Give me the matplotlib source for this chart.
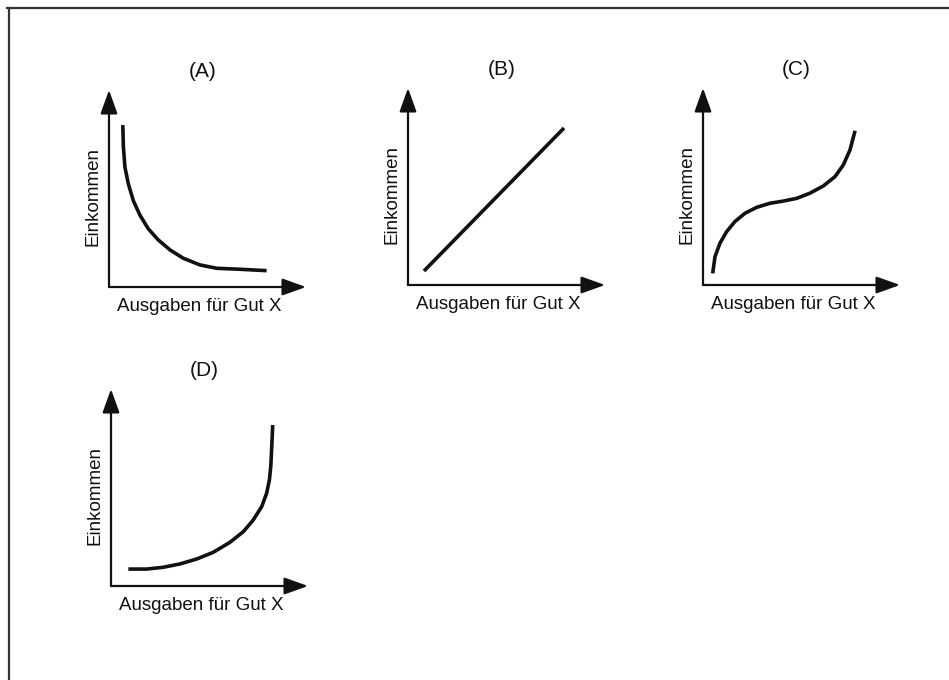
import matplotlib.pyplot as plt
from matplotlib.lines import Line2D

plt.rcParams['font.family'] = ['Liberation Sans', 'DejaVu Sans']

W, H = 949, 680

# curve data (panel units 0..10)
a_x = [0.70, 0.73, 0.81, 0.98, 1.24, 1.57, 1.99, 2.50, 3.10, 3.77, 4.62, 5.47, 6.65, 8.00]
a_y = [8.22, 7.11, 6.08, 5.24, 4.37, 3.65, 2.96, 2.39, 1.88, 1.46, 1.12, 0.95, 0.90, 0.83]

b_x = [0.81, 7.92]
b_y = [0.71, 7.97]

c_x = [0.49, 0.61, 0.86, 1.20, 1.62, 2.13, 2.72, 3.40, 4.08, 4.76, 5.43, 6.11, 6.70, 7.12, 7.46, 7.72]
c_y = [0.59, 1.44, 2.12, 2.71, 3.22, 3.64, 3.94, 4.15, 4.26, 4.40, 4.66, 5.03, 5.50, 6.09, 6.85, 7.83]

d_x = [0.88, 1.81, 2.65, 3.50, 4.35, 5.19, 6.04, 6.72, 7.22, 7.65, 7.90, 8.04, 8.11, 8.16, 8.21]
d_y = [0.86, 0.86, 0.95, 1.12, 1.37, 1.71, 2.22, 2.76, 3.35, 4.03, 4.71, 5.38, 6.06, 7.07, 8.17]

titles = ["(A)", "(B)", "(C)", "(D)"]
xlabel = "Ausgaben für Gut X"
ylabel = "Einkommen"

# panel origins in pixels (x of y-axis, y of x-axis, from top)
origins = [(109, 287), (408, 285), (703, 285), (111, 586)]
size = 197
curves = [(a_x, a_y), (b_x, b_y), (c_x, c_y), (d_x, d_y)]

ink = '#111111'

fig = plt.figure(figsize=(W / 100, H / 100), dpi=100)
fig.patch.set_facecolor('white')

for (ox, oy), (xs, ys), t in zip(origins, curves, titles):
    ax = fig.add_axes([ox / W, (H - oy) / H, size / W, size / H])
    ax.set_xlim(0, 10)
    ax.set_ylim(0, 10)
    ax.axis('off')
    ax.plot(xs, ys, color=ink, lw=2.6, solid_capstyle='butt',
            solid_joinstyle='round')
    arrow = dict(arrowstyle='-|>,head_length=1.45,head_width=0.52',
                 color=ink, lw=1.6, mutation_scale=10,
                 shrinkA=0, shrinkB=0)
    ax.annotate('', xy=(1, 0), xytext=(0, 0), xycoords='axes fraction',
                arrowprops=arrow)
    ax.annotate('', xy=(0, 1), xytext=(0, 0), xycoords='axes fraction',
                arrowprops=arrow)
    ax.text(0.475, 1.095, t, transform=ax.transAxes, ha='center',
            va='center', fontsize=15, color=ink)
    ax.text(0.46, -0.097, xlabel, transform=ax.transAxes, ha='center',
            va='center', fontsize=13.5, color=ink)
    ax.text(-0.08, 0.46, ylabel, transform=ax.transAxes, ha='center',
            va='center', rotation=90, fontsize=13.5, color=ink)

# frame lines (only top and left are visible)
fig.add_artist(Line2D([7 / W, 1], [1 - 8 / H, 1 - 8 / H],
                      transform=fig.transFigure, color='#333333', lw=1.6))
fig.add_artist(Line2D([9 / W, 9 / W], [1 - 8 / H, 0],
                      transform=fig.transFigure, color='#333333', lw=1.6))

fig.savefig('out.png', dpi=100, facecolor='white')
